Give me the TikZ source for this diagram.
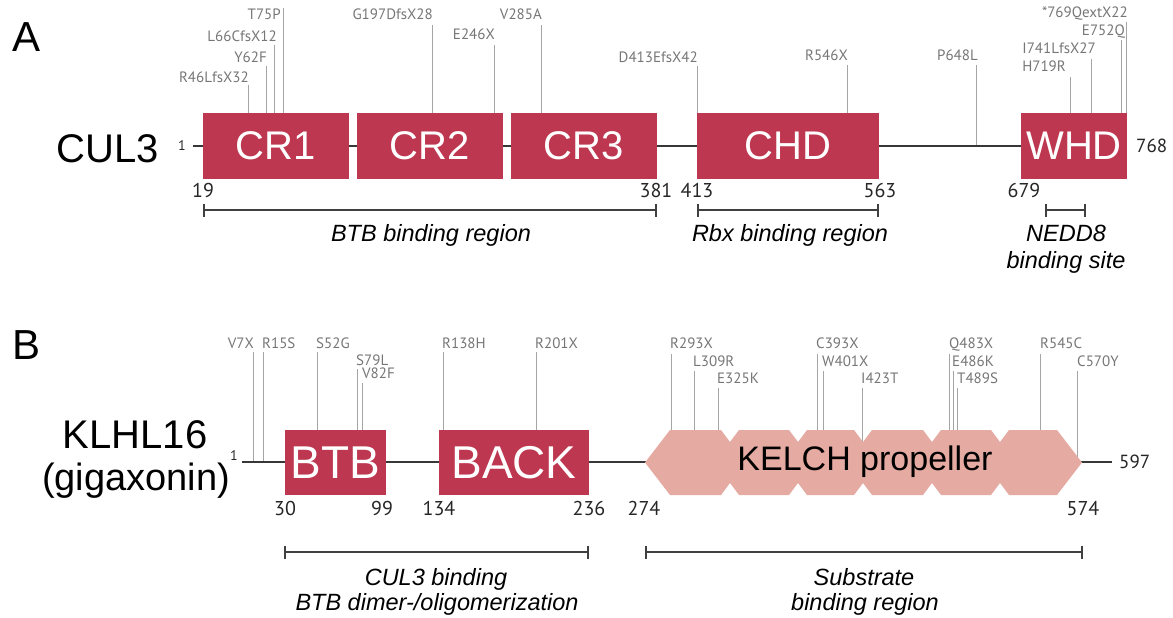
\documentclass[tikz,border=0pt]{standalone}
\usepackage{fontspec}
\setmainfont{Liberation Sans}
\newfontfamily\mutfont{PT Sans}
\usetikzlibrary{arrows.meta,positioning}
\definecolor{domred}{RGB}{190,55,80}
\definecolor{kelchpink}{RGB}{229,170,162}
\definecolor{mutgray}{RGB}{118,118,118}
\definecolor{linegray}{RGB}{165,165,165}
\definecolor{bonegray}{RGB}{55,55,55}
\tikzset{
  panel/.style={inner sep=0pt, font=\fontsize{42}{42}\selectfont},
  prot/.style={inner sep=0pt, font=\fontsize{40}{40}\selectfont},
  dom/.style={rectangle, fill=domred, text=white, inner sep=0pt, minimum height=66pt,
              font=\fontsize{40}{40}\selectfont},
  domB/.style={dom, minimum height=65pt, font=\fontsize{46}{46}\selectfont},
  mlab/.style={inner sep=0pt, text=mutgray, font=\mutfont\fontsize{15}{15}\selectfont},
  mline/.style={draw=linegray, line width=0.9pt},
  num/.style={inner sep=0pt, anchor=base, text=black!85, font=\mutfont\fontsize{20}{20}\selectfont},
  endnum/.style={inner sep=0pt, text=black!85, font=\mutfont\fontsize{14}{14}\selectfont},
  bone/.style={draw=bonegray, line width=2pt},
  brk/.style={{Bar[width=13pt]}-{Bar[width=13pt]}, draw=black!75, line width=1.6pt},
  reg/.style={inner sep=0pt, anchor=base, font=\fontsize{23.5}{23.5}\selectfont\itshape},
}

\begin{document}
\begin{tikzpicture}[x=1pt,y=-1pt]
\useasboundingbox (0,0) rectangle (1173,618);

% ================= A : CUL3 =================
\node[panel] (pA) at (27,37) {A};
\node[prot, anchor=base] (cul3) at (108,162) {CUL3};
\node[endnum, anchor=east] (c1) at (186,146) {1};
\coordinate (cS) at (193,146);
\coordinate (cE) at (1127,146);

% mutations, labels right-aligned on their line
\node[mlab, anchor=base east] (r46) at (249,82) {R46LfsX32};
\node[mlab, anchor=base east] (y62) at (267,63) {Y62F};
\node[mlab, anchor=base east] (l66) at (277,42) {L66CfsX12};
\node[mlab, anchor=base east] (t75) at (281,20) {T75P};
\node[mlab, anchor=base east] (g197) at (433,20) {G197DfsX28};
\node[mlab, anchor=base east] (e246) at (495,40) {E246X};
\node[mlab, anchor=base east] (v285) at (542,20) {V285A};
\node[mlab, anchor=base east] (d413) at (698,63) {D413EfsX42};
\node[mlab, anchor=base east] (r546) at (848,60) {R546X};
\node[mlab, anchor=base east] (p648) at (978,60) {P648L};
\node[mlab, anchor=base east] (h719) at (1066,72) {H719R};
\node[mlab, anchor=base east] (i741) at (1096,54) {I741LfsX27};
\node[mlab, anchor=base east] (e752) at (1125,36) {E752Q};
\node[mlab, anchor=base east] (q769) at (1128,18) {*769QextX22};

\draw[mline] (248,85) -- (248,146);
\draw[mline] (266,66) -- (266,146);
\draw[mline] (274,45) -- (274,146);
\draw[mline] (283,8) -- (283,146);
\draw[mline] (432,25) -- (432,146);
\draw[mline] (494,45) -- (494,146);
\draw[mline] (541,25) -- (541,146);
\draw[mline] (697,66) -- (697,146);
\draw[mline] (847,65) -- (847,146);
\draw[mline] (976,65) -- (976,146);
\draw[mline] (1070,77) -- (1070,146);
\draw[mline] (1091,59) -- (1091,146);
\draw[mline] (1121,40) -- (1121,146);
\draw[mline] (1126,22) -- (1126,146);

\draw[bone] (cS) -- (cE);

% domains
\node[dom, minimum width=146pt] (cr1) at (276,146) {CR1};
\node[dom, minimum width=146pt] (cr2) at (430,146) {CR2};
\node[dom, minimum width=146pt] (cr3) at (584,146) {CR3};
\node[dom, minimum width=182pt] (chd) at (788,146) {CHD};
\node[dom, minimum width=106pt] (whd) at (1074,146) {WHD};
\node[endnum, anchor=west, font=\mutfont\fontsize{19}{19}\selectfont] (c768) at (1136,146) {768};

% residue numbers
\node[num] (n19) at (203,197) {19};
\node[num] (n381) at (656,197) {381};
\node[num] (n413) at (697,197) {413};
\node[num] (n563) at (880,197) {563};
\node[num] (n679) at (1024,197) {679};

% binding regions
\coordinate (btbL) at (203,210);
\coordinate (btbR) at (657,210);
\coordinate (rbxL) at (697,210);
\coordinate (rbxR) at (879,210);
\coordinate (nedL) at (1045,210);
\coordinate (nedR) at (1086,210);
\draw[brk] (btbL) -- (btbR);
\draw[brk] (rbxL) -- (rbxR);
\draw[brk] (nedL) -- (nedR);
\node[reg] (btbreg) at (431,241) {BTB binding region};
\node[reg] (rbxreg) at (790,241) {Rbx binding region};
\node[reg] (nedd8) at (1066,241) {NEDD8};
\node[reg] (nedsite) at (1066,268) {binding site};

% ================= B : KLHL16 =================
\node[panel] (pB) at (27,345) {B};
\node[prot, anchor=base] (klhl) at (135,448) {KLHL16};
\node[prot, anchor=base, font=\fontsize{38}{38}\selectfont] (giga) at (136,490) {(gigaxonin)};
\node[endnum, anchor=west] (k1) at (230,456) {1};
\coordinate (kS) at (242,462);
\coordinate (kE) at (1112,462);

% mutations, labels left-aligned on their line
\node[mlab, anchor=base east] (v7) at (254,348) {V7X};
\node[mlab, anchor=base west] (r15) at (262,348) {R15S};
\node[mlab, anchor=base west] (s52) at (316,348) {S52G};
\node[mlab, anchor=base west] (s79) at (356,365) {S79L};
\node[mlab, anchor=base west] (v82) at (362,378) {V82F};
\node[mlab, anchor=base west] (r138) at (442,348) {R138H};
\node[mlab, anchor=base west] (r201) at (535,348) {R201X};
\node[mlab, anchor=base west] (r293) at (670,348) {R293X};
\node[mlab, anchor=base west] (l309) at (693,366) {L309R};
\node[mlab, anchor=base west] (e325) at (717,383) {E325K};
\node[mlab, anchor=base west] (c393) at (816,348) {C393X};
\node[mlab, anchor=base west] (w401) at (822,366) {W401X};
\node[mlab, anchor=base west] (i423) at (861,383) {I423T};
\node[mlab, anchor=base west] (q483) at (949,348) {Q483X};
\node[mlab, anchor=base west] (e486) at (952,366) {E486K};
\node[mlab, anchor=base west] (t489) at (957,383) {T489S};
\node[mlab, anchor=base west] (r545) at (1040,348) {R545C};
\node[mlab, anchor=base west] (c570) at (1077,366) {C570Y};

\draw[mline] (253,352) -- (253,462);
\draw[mline] (263,352) -- (263,462);
\draw[mline] (317,352) -- (317,462);
\draw[mline] (357,369) -- (357,462);
\draw[mline] (362,383) -- (362,462);
\draw[mline] (443,352) -- (443,462);
\draw[mline] (536,352) -- (536,462);
\draw[mline] (671,354) -- (671,462);
\draw[mline] (694,371) -- (694,462);
\draw[mline] (718,388) -- (718,462);
\draw[mline] (817,354) -- (817,462);
\draw[mline] (823,371) -- (823,462);
\draw[mline] (862,388) -- (862,462);
\draw[mline] (949,354) -- (949,462);
\draw[mline] (953,371) -- (953,462);
\draw[mline] (957,388) -- (957,462);
\draw[mline] (1040,354) -- (1040,462);
\draw[mline] (1077,371) -- (1077,462);

\draw[bone] (kS) -- (kE);

% domains
\node[domB, minimum width=101pt] (btb) at (335.5,462.5) {BTB};
\node[domB, minimum width=150pt] (back) at (514,462.5) {BACK};

% kelch blades
\fill[kelchpink] (645,462.5) -- (670,430) -- (721,430) -- (730,442) -- (730,483) -- (721,495) -- (670,495) -- cycle;
\fill[kelchpink] (730,442) -- (739,430) -- (789,430) -- (798,442) -- (798,483) -- (789,495) -- (739,495) -- (730,483) -- cycle;
\fill[kelchpink] (798,442) -- (807,430) -- (854,430) -- (863,442) -- (863,483) -- (854,495) -- (807,495) -- (798,483) -- cycle;
\fill[kelchpink] (863,442) -- (872,430) -- (923,430) -- (932,442) -- (932,483) -- (923,495) -- (872,495) -- (863,483) -- cycle;
\fill[kelchpink] (932,442) -- (941,430) -- (991,430) -- (1000,442) -- (1000,483) -- (991,495) -- (941,495) -- (932,483) -- cycle;
\fill[kelchpink] (1000,442) -- (1009,430) -- (1057,430) -- (1082,462.5) -- (1057,495) -- (1009,495) -- (1000,483) -- cycle;
\node[inner sep=0pt, font=\fontsize{34}{34}\selectfont] (kelch) at (865,462) {KELCH propeller};
\node[endnum, anchor=west, font=\mutfont\fontsize{19}{19}\selectfont] (k597) at (1119,462) {597};

% residue numbers
\node[num] (n30) at (285,515) {30};
\node[num] (n99) at (382,515) {99};
\node[num] (n134) at (439,515) {134};
\node[num] (n236) at (589,515) {236};
\node[num] (n274) at (644,515) {274};
\node[num] (n574) at (1083,515) {574};

% binding regions
\coordinate (culL) at (284,552);
\coordinate (culR) at (589,552);
\coordinate (subL) at (645,552);
\coordinate (subR) at (1083,552);
\draw[brk] (culL) -- (culR);
\draw[brk] (subL) -- (subR);
\node[reg] (culbind) at (436,585) {CUL3 binding};
\node[reg] (btbdim) at (437,610) {BTB dimer-/oligomerization};
\node[reg] (subst) at (864,585) {Substrate};
\node[reg] (subreg) at (865,610) {binding region};

\end{tikzpicture}
\end{document}
